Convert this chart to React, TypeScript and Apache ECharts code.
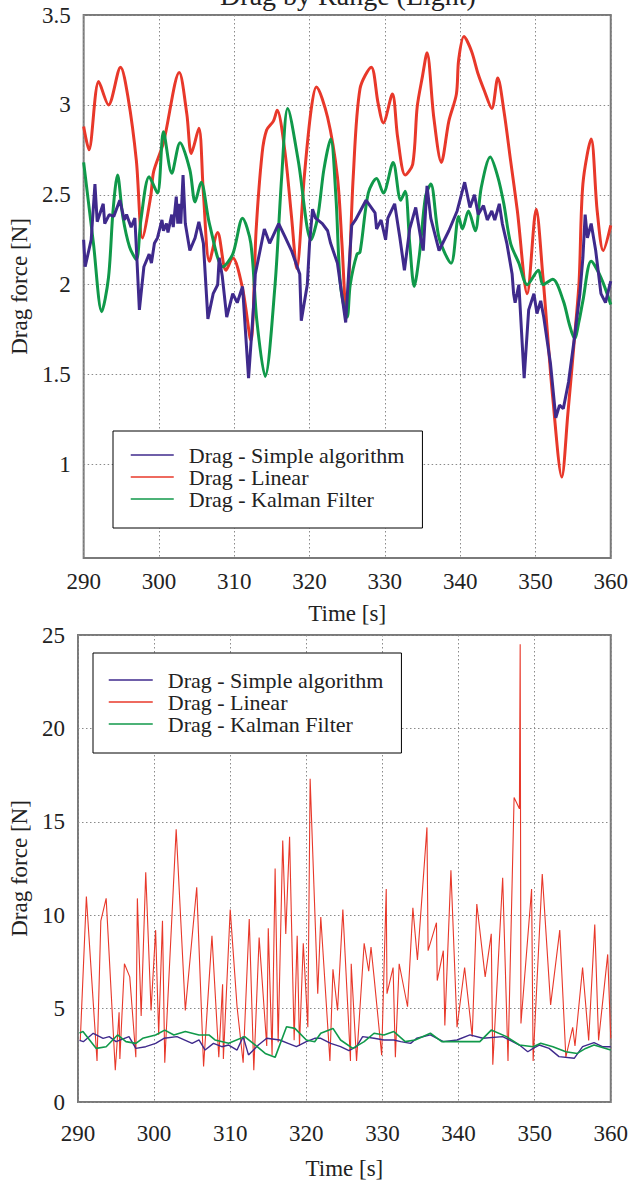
import React, { useEffect, useRef } from "react";
import * as echarts from "echarts";

// ---------- DATA ----------
const seriesNames = ["Drag - Simple algorithm", "Drag - Linear", "Drag - Kalman Filter"];
const titleText = "Drag by Range (Light)";
const xAxisName = "Time [s]";
const yAxisName = "Drag force [N]";
const topYTicks = [1, 1.5, 2, 2.5, 3, 3.5];

// Top chart: Simple algorithm
const topSimpleT = [290.0, 290.2, 291.0, 291.5, 291.8, 292.6, 292.8, 293.4, 294.0, 294.8, 295.4, 295.7, 296.3, 296.8, 297.1, 297.4, 298.0, 298.7, 299.0, 299.4, 299.8, 300.4, 300.6, 301.0, 301.2, 301.7, 301.9, 302.3, 302.5, 302.7, 302.9, 303.2, 303.5, 304.1, 304.8, 305.3, 305.9, 306.5, 307.2, 307.8, 308.0, 308.4, 309.0, 309.8, 310.4, 311.1, 311.9, 312.6, 312.8, 314.0, 314.7, 315.9, 316.7, 317.6, 318.7, 318.9, 319.7, 320.0, 320.4, 320.8, 321.7, 322.4, 322.8, 323.7, 324.8, 325.1, 325.6, 326.1, 327.5, 328.7, 328.9, 329.5, 330.1, 330.4, 331.3, 332.0, 332.6, 333.3, 334.1, 334.8, 335.1, 335.6, 336.1, 337.2, 338.5, 339.6, 340.6, 341.3, 341.9, 342.4, 343.1, 343.6, 344.2, 344.6, 345.2, 345.6, 346.2, 346.9, 347.1, 347.3, 347.8, 348.5, 349.1, 349.8, 350.2, 350.7, 351.1, 352.0, 352.7, 353.2, 353.7, 354.4, 355.1, 355.9, 356.3, 356.6, 356.9, 357.4, 358.0, 358.7, 359.3, 360.0];
const topSimpleV = [2.25, 2.10, 2.25, 2.56, 2.35, 2.45, 2.34, 2.39, 2.38, 2.47, 2.36, 2.39, 2.32, 2.37, 2.12, 1.86, 2.10, 2.17, 2.12, 2.23, 2.26, 2.36, 2.30, 2.34, 2.29, 2.39, 2.32, 2.49, 2.34, 2.45, 2.34, 2.61, 2.34, 2.19, 2.26, 2.35, 2.23, 1.81, 1.95, 2.00, 2.15, 2.05, 1.82, 1.95, 1.90, 1.99, 1.48, 1.90, 2.06, 2.31, 2.23, 2.34, 2.27, 2.19, 2.06, 1.80, 2.00, 2.23, 2.42, 2.37, 2.34, 2.30, 2.23, 2.12, 1.79, 2.00, 2.33, 2.36, 2.47, 2.40, 2.31, 2.36, 2.25, 2.37, 2.45, 2.26, 2.08, 2.31, 2.43, 2.25, 2.19, 2.55, 2.37, 2.19, 2.30, 2.41, 2.57, 2.43, 2.50, 2.39, 2.44, 2.36, 2.41, 2.36, 2.45, 2.34, 2.23, 2.06, 1.95, 1.90, 2.00, 1.48, 1.86, 1.95, 1.84, 1.91, 1.82, 1.56, 1.26, 1.33, 1.31, 1.46, 1.68, 1.95, 2.15, 2.39, 2.26, 2.34, 2.19, 1.95, 1.90, 2.02];

// Top chart: Linear
const topLinearT = [290.0, 290.7, 292.0, 293.3, 294.9, 295.9, 297.0, 297.8, 298.9, 299.3, 300.6, 302.7, 303.7, 304.3, 305.3, 305.9, 306.7, 307.8, 308.9, 309.8, 311.1, 312.2, 312.9, 313.7, 314.3, 315.2, 315.7, 316.7, 317.6, 318.3, 319.3, 320.2, 320.9, 322.4, 323.7, 324.3, 324.9, 325.3, 325.8, 326.7, 328.2, 329.1, 329.8, 331.0, 331.7, 332.7, 333.7, 334.3, 335.0, 335.6, 336.5, 337.5, 338.5, 339.5, 339.8, 340.5, 341.5, 342.4, 343.2, 344.2, 345.0, 345.8, 346.7, 347.6, 348.9, 350.1, 351.0, 351.5, 352.3, 353.5, 354.3, 355.2, 355.8, 356.3, 357.4, 358.2, 359.0, 360.0];
const topLinearV = [2.88, 2.75, 3.13, 3.00, 3.21, 3.04, 2.69, 2.26, 2.49, 2.63, 2.79, 3.18, 2.95, 2.73, 2.87, 2.51, 2.13, 2.29, 2.08, 2.15, 1.98, 1.69, 2.30, 2.73, 2.86, 2.91, 2.97, 2.75, 2.38, 2.09, 2.60, 2.97, 3.10, 2.93, 2.60, 2.23, 1.82, 2.10, 2.60, 3.09, 3.21, 3.01, 2.90, 3.06, 2.82, 2.61, 2.67, 2.99, 3.16, 3.29, 2.93, 2.68, 2.91, 3.06, 3.25, 3.38, 3.30, 3.17, 3.08, 2.98, 3.15, 2.97, 2.69, 2.41, 1.95, 2.42, 2.04, 1.78, 1.37, 0.93, 1.28, 1.71, 2.02, 2.56, 2.81, 2.41, 2.19, 2.33];

// Top chart: Kalman Filter
const topKalmanT = [290.0, 291.3, 292.4, 293.3, 293.9, 294.5, 295.2, 296.1, 297.0, 297.6, 298.7, 299.8, 300.6, 301.7, 302.8, 304.1, 304.8, 305.6, 306.7, 308.5, 309.8, 311.1, 312.2, 313.0, 314.1, 315.4, 316.3, 317.1, 318.5, 320.2, 321.1, 321.9, 322.8, 323.5, 324.1, 325.0, 325.4, 326.3, 326.7, 327.8, 328.9, 329.8, 331.1, 332.1, 332.7, 333.3, 333.9, 334.6, 335.4, 336.1, 337.2, 338.8, 339.8, 340.3, 341.1, 342.0, 342.8, 344.0, 345.0, 345.8, 346.7, 347.8, 348.9, 350.4, 351.0, 352.3, 353.7, 354.5, 355.2, 355.8, 356.3, 357.4, 358.7, 360.0];
const topKalmanV = [2.68, 2.23, 1.85, 2.04, 2.41, 2.61, 2.38, 2.21, 2.14, 2.36, 2.60, 2.51, 2.85, 2.62, 2.79, 2.64, 2.46, 2.57, 2.34, 2.10, 2.17, 2.37, 2.23, 1.80, 1.49, 1.99, 2.60, 2.98, 2.69, 2.25, 2.38, 2.64, 2.81, 2.49, 2.00, 1.82, 2.00, 2.17, 2.18, 2.51, 2.59, 2.51, 2.68, 2.47, 2.52, 2.23, 1.99, 2.17, 2.49, 2.56, 2.26, 2.12, 2.38, 2.31, 2.41, 2.30, 2.54, 2.71, 2.60, 2.45, 2.23, 2.12, 2.00, 2.08, 2.00, 2.03, 1.91, 1.78, 1.70, 1.80, 1.91, 2.13, 2.04, 1.89];

// Bottom chart: Simple algorithm
const botSimpleT = [290.2, 290.7, 292.0, 293.3, 294.1, 295.0, 296.7, 297.6, 298.9, 300.2, 301.3, 303.0, 305.0, 305.9, 306.7, 307.8, 308.9, 309.8, 310.9, 311.7, 312.4, 313.7, 314.8, 316.5, 317.6, 318.7, 320.0, 321.1, 321.9, 323.2, 324.5, 325.6, 326.6, 327.4, 328.9, 330.2, 331.5, 332.4, 333.7, 334.5, 336.3, 338.0, 339.8, 341.5, 343.2, 345.8, 348.0, 349.1, 349.8, 350.6, 351.9, 353.2, 355.2, 356.3, 357.8, 358.9, 360.0];
const botSimpleV = [3.3, 3.23, 3.68, 3.41, 3.5, 3.23, 3.5, 2.87, 2.96, 3.14, 3.41, 3.5, 3.14, 3.32, 2.78, 3.14, 2.96, 3.05, 2.78, 3.5, 2.52, 3.05, 3.41, 3.32, 3.14, 2.96, 3.23, 3.41, 3.41, 3.14, 2.96, 2.75, 2.96, 3.5, 3.41, 3.32, 3.32, 3.23, 3.14, 3.41, 3.59, 3.23, 3.32, 3.59, 3.41, 3.5, 3.05, 2.69, 2.87, 3.05, 2.87, 2.43, 2.34, 2.96, 3.18, 2.96, 2.96];

// Bottom chart: Linear
const botLinearT = [290.3, 291.1, 292.5, 293.0, 293.7, 294.9, 295.4, 295.5, 296.1, 296.8, 297.6, 297.8, 298.3, 298.9, 299.6, 300.2, 300.6, 301.1, 301.4, 302.9, 304.1, 305.6, 306.5, 307.6, 308.5, 309.0, 309.1, 310.0, 310.9, 311.7, 312.5, 313.1, 313.8, 314.8, 315.0, 315.5, 315.9, 316.3, 316.9, 317.3, 317.8, 318.4, 318.8, 319.1, 319.6, 320.2, 320.5, 321.5, 321.9, 323.1, 323.5, 324.1, 324.8, 325.8, 325.9, 326.6, 327.6, 328.2, 328.5, 328.9, 329.9, 330.5, 330.6, 331.4, 331.7, 332.2, 333.3, 334.0, 334.6, 335.85, 336.0, 337.1, 337.2, 338.0, 338.2, 339.0, 339.8, 340.8, 341.8, 342.4, 343.5, 344.3, 344.5, 345.8, 346.5, 347.3, 348.0, 348.1, 348.2, 349.6, 349.8, 351.0, 352.1, 353.3, 354.1, 355.0, 355.3, 356.3, 357.1, 357.9, 358.4, 359.6, 360.0];
const botLinearV = [3.3, 11.0, 2.2, 9.7, 10.9, 1.7, 4.8, 2.3, 7.4, 6.7, 2.4, 10.9, 4.6, 12.3, 4.9, 9.2, 3.6, 9.7, 2.1, 14.6, 4.9, 11.5, 1.9, 8.9, 2.4, 6.3, 2.3, 10.3, 5.1, 2.1, 9.8, 1.7, 8.8, 3.0, 9.3, 2.5, 12.5, 3.2, 14.0, 9.0, 14.2, 3.3, 8.9, 3.0, 8.5, 4.0, 17.3, 5.8, 9.9, 2.2, 7.1, 4.9, 10.3, 2.2, 7.4, 2.2, 8.5, 7.0, 8.3, 6.7, 2.5, 11.4, 5.8, 7.2, 2.4, 7.4, 5.1, 10.4, 7.6, 14.7, 8.1, 9.6, 6.5, 8.1, 4.1, 12.4, 4.0, 7.2, 3.5, 10.6, 6.7, 9.0, 2.0, 12.0, 2.2, 16.3, 15.7, 24.5, 4.2, 11.4, 2.2, 12.2, 5.2, 9.2, 2.4, 4.0, 3.0, 7.2, 3.3, 9.5, 3.3, 7.9, 3.4];

// Bottom chart: Kalman Filter
const botKalmanT = [290.2, 290.65, 292.4, 293.7, 295.2, 296.3, 297.6, 298.5, 300.2, 301.4, 302.6, 304.1, 305.9, 307.2, 308.0, 309.8, 311.9, 313.3, 314.6, 315.9, 317.4, 318.5, 320.0, 321.1, 321.9, 323.5, 324.5, 326.1, 327.6, 328.9, 330.2, 331.5, 333.0, 334.3, 336.3, 337.8, 340.2, 342.8, 344.3, 346.3, 348.0, 349.8, 350.8, 352.4, 354.1, 355.6, 356.7, 357.8, 360.0];
const botKalmanV = [3.7, 3.77, 2.87, 2.96, 3.59, 3.23, 3.14, 3.41, 3.59, 3.85, 3.59, 3.77, 3.59, 3.59, 3.32, 3.14, 3.5, 3.05, 2.6, 2.39, 4.03, 3.94, 3.32, 3.23, 3.68, 3.94, 3.32, 2.87, 3.23, 3.68, 3.59, 3.77, 3.23, 3.32, 3.68, 3.23, 3.23, 3.23, 3.85, 3.5, 3.05, 2.96, 3.14, 2.96, 2.69, 2.6, 2.87, 3.05, 2.78];

// ---------- STYLE ----------
const FONT = "Liberation Serif";
const C_SIMPLE = "#3f2a8c";
const C_LINEAR = "#e8382a";
const C_KALMAN = "#10994a";
const zip = (t: number[], v: number[]) => t.map((x, i) => [x, v[i]]);

export default function App() {
  const ref = useRef<HTMLDivElement>(null);
  useEffect(() => {
    if (!ref.current) return;
    const chart = echarts.init(ref.current, null, { renderer: "svg" });
    const splitLine = { show: true, lineStyle: { color: "#8a8a8a", width: 1, type: [1.5, 2.5] as any } };
    const richSerif = { s: { fontFamily: FONT, fontSize: 23, color: "#222" } };
    const label = (margin: number) => ({
      fontFamily: FONT, fontSize: 23, color: "#222", margin,
      formatter: (v: number) => `{s|${v}}`,
      rich: richSerif,
    });
    const nameStyle = { fontFamily: FONT, fontSize: 23, color: "#222" };
    const legendBase = {
      orient: "vertical",
      itemGap: 0,
      itemHeight: 14,
      backgroundColor: "#fff",
      borderColor: "#000",
      borderWidth: 1,
      borderRadius: 0,
      selectedMode: false,
      data: seriesNames,
      lineStyle: { width: 1.5 },
      itemStyle: { opacity: 0 },
      formatter: (name: string) => `{s|${name}}`,
      textStyle: {
        fontFamily: FONT, fontSize: 22, color: "#222",
        rich: { s: { fontFamily: FONT, fontSize: 22, color: "#222", padding: [0, 0, 0, 10] } },
      },
    };
    const option: any = {
      animation: false,
      backgroundColor: "#fff",
      textStyle: { fontFamily: FONT },
      title: {
        text: titleText,
        left: 343,
        textAlign: "center",
        top: -24,
        textStyle: { fontFamily: FONT, fontSize: 28, fontWeight: "normal", color: "#222" },
      },
      grid: [
        { left: 75, top: 15, width: 537, height: 543, show: true, borderColor: "#7a7a7a", borderWidth: 2, backgroundColor: "transparent" },
        { left: 75, top: 635, width: 537, height: 467, show: true, borderColor: "#7a7a7a", borderWidth: 2, backgroundColor: "transparent" },
      ],
      legend: [
        { ...legendBase, left: 113, top: 431, itemWidth: 43, padding: [13, 18, 18, 17] },
        { ...legendBase, left: 93, top: 653, itemWidth: 44, padding: [16, 18, 18, 15] },
      ],
      xAxis: [
        {
          gridIndex: 0, type: "value", min: 290, max: 360, interval: 10,
          axisLine: { show: false }, axisTick: { show: false }, splitLine,
          axisLabel: label(12),
          name: xAxisName, nameLocation: "middle", nameGap: 44, nameTextStyle: nameStyle,
        },
        {
          gridIndex: 1, type: "value", min: 290, max: 360, interval: 10,
          axisLine: { show: false }, axisTick: { show: false }, splitLine,
          axisLabel: label(20),
          name: xAxisName, nameLocation: "middle", nameGap: 55, nameTextStyle: nameStyle,
        },
      ],
      yAxis: [
        {
          gridIndex: 0, type: "value", min: 0.48, max: 3.5,
          axisLine: { show: false },
          axisTick: { show: false, customValues: topYTicks },
          splitLine,
          axisLabel: { ...label(13), customValues: topYTicks },
          name: yAxisName, nameLocation: "middle", nameGap: 47, nameTextStyle: nameStyle,
        },
        {
          gridIndex: 1, type: "value", min: 0, max: 25, interval: 5,
          axisLine: { show: false }, axisTick: { show: false }, splitLine,
          axisLabel: label(13),
          name: yAxisName, nameLocation: "middle", nameGap: 47, nameTextStyle: nameStyle,
        },
      ],
      series: [
        { name: seriesNames[1], type: "line", xAxisIndex: 0, yAxisIndex: 0, data: zip(topLinearT, topLinearV), symbol: "none", smooth: 0.3, lineStyle: { color: C_LINEAR, width: 3 }, itemStyle: { color: C_LINEAR } },
        { name: seriesNames[2], type: "line", xAxisIndex: 0, yAxisIndex: 0, data: zip(topKalmanT, topKalmanV), symbol: "none", smooth: 0.3, lineStyle: { color: C_KALMAN, width: 3 }, itemStyle: { color: C_KALMAN } },
        { name: seriesNames[0], type: "line", xAxisIndex: 0, yAxisIndex: 0, data: zip(topSimpleT, topSimpleV), symbol: "none", lineStyle: { color: C_SIMPLE, width: 3 }, itemStyle: { color: C_SIMPLE } },
        { name: seriesNames[1], type: "line", xAxisIndex: 1, yAxisIndex: 1, data: zip(botLinearT, botLinearV), symbol: "none", lineStyle: { color: C_LINEAR, width: 1.1 }, itemStyle: { color: C_LINEAR } },
        { name: seriesNames[0], type: "line", xAxisIndex: 1, yAxisIndex: 1, data: zip(botSimpleT, botSimpleV), symbol: "none", lineStyle: { color: C_SIMPLE, width: 1.4 }, itemStyle: { color: C_SIMPLE } },
        { name: seriesNames[2], type: "line", xAxisIndex: 1, yAxisIndex: 1, data: zip(botKalmanT, botKalmanV), symbol: "none", lineStyle: { color: C_KALMAN, width: 1.6 }, itemStyle: { color: C_KALMAN } },
      ],
    };
    chart.setOption(option);
    return () => chart.dispose();
  }, []);
  return <div ref={ref} style={{ position: "absolute", left: 0, top: 0, width: 631, height: 1183 }} />;
}
